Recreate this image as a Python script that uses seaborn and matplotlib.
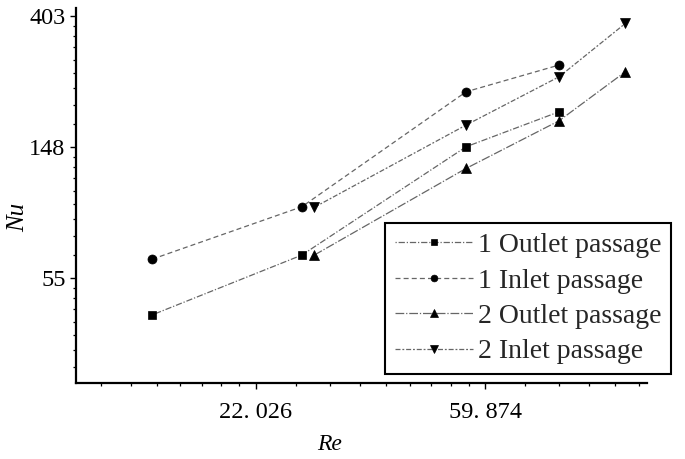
import numpy as np
import matplotlib
matplotlib.use("Agg")
import matplotlib.pyplot as plt
import seaborn as sns
from matplotlib.ticker import FixedLocator, FixedFormatter, NullFormatter

# Reynolds number (in thousands) and Nusselt number for each passage
re_1 = [14.0, 26.9, 55.1, 82.7]
nu_1_outlet = [41.3, 65.2, 149.1, 194.8]
nu_1_inlet = [63.2, 94.3, 226.9, 278.3]

re_2 = [28.4, 55.1, 82.7, 110.4]
nu_2_outlet = [65.2, 126.4, 181.9, 264.4]
nu_2_inlet = [93.9, 176.0, 254.5, 382.4]

labels = ["1 Outlet passage", "1 Inlet passage", "2 Outlet passage", "2 Inlet passage"]

x_ticks = [22.026, 59.874]
x_tick_labels = ["22. 026", "59. 874"]
y_ticks = [54.598, 148.413, 403.429]
y_tick_labels = ["55", "148", "403"]

sns.set_theme(style="ticks")
plt.rcParams["font.family"] = ["Liberation Serif", "DejaVu Serif"]

W, H = 685, 459
fig = plt.figure(figsize=(W / 100, H / 100), dpi=100)
ax = fig.add_axes([76 / W, 1 - 383.3 / H, (647 - 76) / W, (383.3 - 8) / H])

series = [
    (re_1, nu_1_outlet, "s", 6.0, (0, (1, 1.5, 5, 1.5))),
    (re_1, nu_1_inlet, "o", 6.5, (0, (4, 2.5))),
    (re_2, nu_2_outlet, "^", 7.0, (0, (7, 1.5, 1, 1.5))),
    (re_2, nu_2_inlet, "v", 7.0, (0, (4, 1.5, 1.5, 1.5))),
]

for (xs, ys, mk, ms, ls), lab in zip(series, labels):
    sns.lineplot(x=xs, y=ys, ax=ax, estimator=None, sort=False,
                 color="0.4", linewidth=0.9, linestyle=ls,
                 marker=mk, markersize=ms, markerfacecolor="black",
                 markeredgecolor="black", markeredgewidth=0.5, label=lab)

ax.set_xscale("log", base=np.e)
ax.set_yscale("log", base=np.e)
ax.set_xlim(10.04, 121.3)
ax.set_ylim(24.5, 430)

# minor ticks: nine linear steps inside each e-fold
def minor_ticks(lo_exp, hi_exp, scale=1.0):
    vals = []
    for k in range(lo_exp, hi_exp):
        base = np.exp(k) * scale
        for i in range(1, 9):
            vals.append(base * (1 + (np.e - 1) * i / 9))
    return vals

ax.xaxis.set_major_locator(FixedLocator(x_ticks))
ax.xaxis.set_major_formatter(FixedFormatter(x_tick_labels))
ax.xaxis.set_minor_locator(FixedLocator(minor_ticks(8, 12, 1e-3)))
ax.xaxis.set_minor_formatter(NullFormatter())

ax.yaxis.set_major_locator(FixedLocator(y_ticks))
ax.yaxis.set_major_formatter(FixedFormatter(y_tick_labels))
ax.yaxis.set_minor_locator(FixedLocator(minor_ticks(2, 6)))
ax.yaxis.set_minor_formatter(NullFormatter())

for side in ["top", "right"]:
    ax.spines[side].set_visible(False)
for side in ["left", "bottom"]:
    ax.spines[side].set_linewidth(1.6)
    ax.spines[side].set_color("black")

ax.tick_params(axis="both", which="major", direction="out", length=4.5,
               width=1.0, color="black", labelsize=17.5, labelcolor="black")
ax.tick_params(axis="both", which="minor", direction="out", length=2.2,
               width=0.9, color="black")
ax.tick_params(axis="x", which="major", pad=9)
ax.tick_params(axis="y", which="major", pad=3)

fig.text(18 / W, 1 - 217 / H, "Nu", rotation=90, ha="center", va="center",
         fontsize=18, style="italic", color="black")
fig.text(330 / W, 1 - 444 / H, "Re", ha="center", va="center",
         fontsize=17, style="italic", color="black")

leg = ax.legend(loc="upper left", bbox_to_anchor=(385 / W, 1 - 222.7 / H),
                bbox_transform=fig.transFigure, borderaxespad=0,
                fontsize=20, handlelength=2.8, handletextpad=0.18,
                labelspacing=0.36, borderpad=0.36, markerscale=0.75,
                fancybox=False, framealpha=1, edgecolor="black")
leg.get_frame().set_linewidth(1.5)

fig.savefig("out.png", dpi=100, facecolor="white")
